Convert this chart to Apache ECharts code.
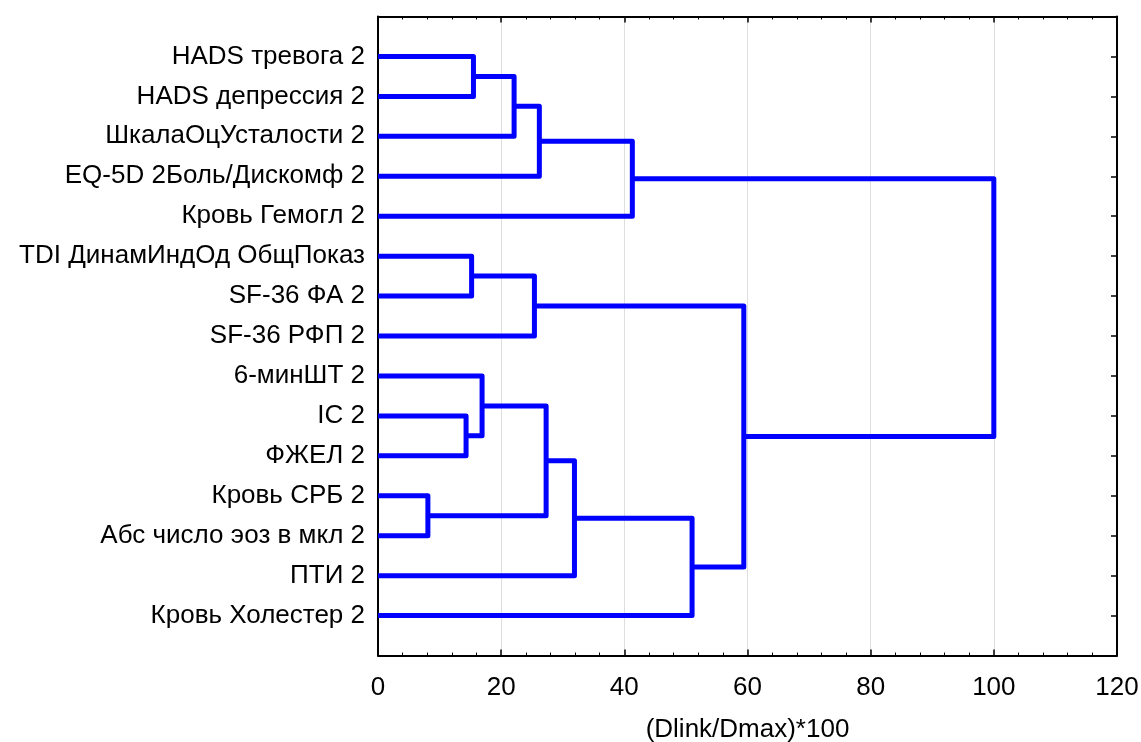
<!DOCTYPE html>
<html>
<head>
<meta charset="utf-8">
<script src="https://cdn.jsdelivr.net/npm/echarts@6/dist/echarts.min.js"></script>
<style>
  html, body { margin: 0; padding: 0; background: #ffffff; }
  #chart { width: 1141px; height: 742px; }
</style>
</head>
<body>
<div id="chart"></div>
<script>
// Variables, in dendrogram order (top to bottom)
const variables = [
  'HADS тревога 2',
  'HADS депрессия 2',
  'ШкалаОцУсталости 2',
  'EQ-5D 2Боль/Дискомф 2',
  'Кровь Гемогл 2',
  'TDI ДинамИндОд ОбщПоказ',
  'SF-36 ФА 2',
  'SF-36 РФП 2',
  '6-минШТ 2',
  'IC 2',
  'ФЖЕЛ 2',
  'Кровь СРБ 2',
  'Абс число эоз в мкл 2',
  'ПТИ 2',
  'Кровь Холестер 2'
];

// Joining steps: node ids 0..14 are the variables; join k creates node 15 + k
const joinLeft   = [0, 15, 16, 17, 5, 19, 9, 8, 11, 22, 24, 25, 20, 18];
const joinRight  = [1, 2, 3, 4, 6, 7, 10, 21, 12, 23, 13, 14, 26, 27];
// Linkage distance of each join, (Dlink/Dmax)*100
const joinHeight = [15.5, 22.1, 26.2, 41.3, 15.2, 25.4, 14.3, 16.9, 8.1, 27.3, 31.9, 51.0, 59.4, 100.0];

// X-axis tick values
const xTicks = [0, 20, 40, 60, 80, 100, 120];
</script>
<script>
// Build the branch polylines: each join links its two children at the join height,
// the new node sits midway between them.
const nodeY = variables.map((_, i) => i + 1);
const nodeH = variables.map(() => 0);
const branches = [];
joinLeft.forEach((a, k) => {
  const b = joinRight[k];
  const h = joinHeight[k];
  branches.push([[nodeH[a], nodeY[a]], [h, nodeY[a]], [h, nodeY[b]], [nodeH[b], nodeY[b]]]);
  nodeY.push((nodeY[a] + nodeY[b]) / 2);
  nodeH.push(h);
});

const FONT = '"Liberation Sans", Arial, sans-serif';
const chart = echarts.init(document.getElementById('chart'), null, { renderer: 'canvas' });

const xStep = xTicks[1] - xTicks[0];
const xCommon = {
  type: 'value', min: xTicks[0], max: xTicks[xTicks.length - 1], interval: xStep,
  axisLine: { show: true, onZero: false, lineStyle: { color: '#000', width: 2 } },
  axisTick: { show: true, inside: true, length: 6, lineStyle: { color: '#000', width: 1.5 } },
  minorTick: { show: true, splitNumber: 5, length: 3, lineStyle: { color: '#000', width: 1 } }
};
const yCommon = {
  type: 'value', min: 0, max: variables.length + 1, interval: 1, inverse: true,
  axisLine: { show: true, onZero: false, lineStyle: { color: '#000', width: 2 } },
  axisTick: { show: true, inside: true, length: 6, lineStyle: { color: '#000', width: 1.5 } },
  splitLine: { show: false }
};

chart.setOption({
  animation: false,
  backgroundColor: '#ffffff',
  grid: {
    left: 378, right: 24, top: 16.5, bottom: 86.5,
    containLabel: false, outerBoundsMode: 'none'
  },
  xAxis: [
    Object.assign({}, xCommon, {
      position: 'bottom',
      axisLabel: { color: '#000', fontFamily: FONT, fontSize: 26, margin: 19 },
      splitLine: { show: true, lineStyle: { color: '#dedede', width: 1 } },
      name: '(Dlink/Dmax)*100',
      nameLocation: 'middle',
      nameGap: 61,
      nameTextStyle: { color: '#000', fontFamily: FONT, fontSize: 26 }
    }),
    Object.assign({}, xCommon, {
      position: 'top',
      axisLabel: { show: false },
      splitLine: { show: false }
    })
  ],
  yAxis: [
    Object.assign({}, yCommon, {
      position: 'left',
      axisLabel: {
        color: '#000', fontFamily: FONT, fontSize: 26, margin: 13,
        formatter: v => (v >= 1 && v <= variables.length ? variables[v - 1] : '')
      }
    }),
    Object.assign({}, yCommon, {
      position: 'right',
      axisLabel: { show: false }
    })
  ],
  series: [{
    type: 'custom',
    xAxisIndex: 0,
    yAxisIndex: 0,
    data: branches.map((b, i) => [i]),
    renderItem: (params, api) => {
      const pts = branches[params.dataIndex].map(p => api.coord(p));
      return {
        type: 'polyline',
        shape: { points: pts },
        style: { stroke: '#0000ff', lineWidth: 5, fill: null, lineJoin: 'round' }
      };
    },
    clip: false,
    silent: true
  }]
});
</script>
</body>
</html>
